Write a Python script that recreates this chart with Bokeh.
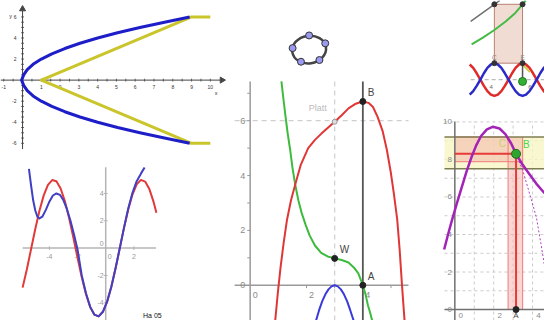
import math
from bokeh.plotting import figure
from bokeh.models import Range1d
from bokeh.core.properties import value
from bokeh.embed import file_html
from bokeh.resources import INLINE

FONT = value("Liberation Sans")

# ======================= DATA =======================
# 1) top-left: parabola (blue) and broken line (yellow)
par_y = [-6, -5.5, -5, -4.5, -4, -3.5, -3, -2.5, -2, -1.5, -1, -0.5, 0,
         0.5, 1, 1.5, 2, 2.5, 3, 3.5, 4, 4.5, 5, 5.5, 6]
par_x = [8.9, 7.56, 6.25, 5.06, 4.0, 3.06, 2.25, 1.56, 1.0, 0.56, 0.25, 0.06, -0.05,
         0.06, 0.25, 0.56, 1.0, 1.56, 2.25, 3.06, 4.0, 5.06, 6.25, 7.56, 8.9]
brk_x = [10, 9, 1, 9, 10]
brk_y = [6, 6, 0, -6, -6]
tl_xticks = [-1, 1, 2, 3, 4, 5, 6, 7, 8, 9, 10]
tl_yticks = [-6, -4, -2, 2, 4, 6]

# 2) bottom-left: sine (red) and approximating polynomial (blue)
sin_x = [-5.9, -5.6, -5.3, -5.0, -4.7, -4.4, -4.1, -3.8, -3.5, -3.2, -2.9, -2.6, -2.3,
         -2.0, -1.7, -1.4, -1.1, -0.8, -0.5, -0.2, 0.1, 0.4, 0.7, 1.0, 1.3, 1.6, 1.9,
         2.2, 2.5, 2.8, 3.1, 3.4, 3.6]
sin_y = [-2.89, -1.56, -0.08, 1.40, 2.75, 3.86, 4.63, 4.98, 4.89, 4.36, 3.44, 2.21, 0.79,
         -0.71, -2.14, -3.38, -4.32, -4.87, -4.99, -4.66, -3.92, -2.82, -1.48, 0.0, 1.48,
         2.82, 3.92, 4.66, 4.99, 4.87, 4.32, 3.38, 2.58]
poly_x = [-5.45, -5.3, -5.15, -5.0, -4.85, -4.7, -4.5, -4.25, -4.0, -3.75, -3.5, -3.25,
          -3.0, -2.75, -2.5, -2.25, -2.0, -1.7, -1.4, -1.1, -0.8, -0.5, -0.2, 0.1, 0.4,
          0.7, 1.0, 1.3, 1.6, 1.9, 2.2, 2.5, 2.76]
poly_y = [5.8, 4.6, 3.5, 2.75, 2.3, 2.17, 2.3, 2.8, 3.4, 3.85, 4.0, 3.9,
          3.5, 2.85, 2.0, 1.0, -0.1, -2.0, -3.3, -4.3, -4.87, -4.99, -4.66, -3.92, -2.82,
          -1.48, 0.0, 1.5, 2.9, 4.05, 4.9, 5.45, 5.9]
bl_xticks = [-4, -2, 2]
bl_yticks = [-4, -2, 2, 4]

# 3) centre: f (red), g (green), h (blue)
cf_x = [0.89, 0.98, 1.08, 1.19, 1.31, 1.45, 1.6, 1.8, 2.06, 2.3, 2.52, 2.75, 3.0, 3.25,
        3.49, 3.75, 3.99, 4.2, 4.36, 4.52, 4.7, 4.85, 4.99, 5.1, 5.22, 5.31, 5.39, 5.48]
cf_y = [-1.28, -0.3, 0.66, 1.55, 2.4, 3.1, 3.67, 4.4, 5.0, 5.3, 5.52, 5.73, 5.96, 6.2,
        6.45, 6.62, 6.7, 6.65, 6.5, 6.15, 5.63, 4.95, 4.13, 3.35, 2.4, 1.25, 0.0, -1.28]
cg_x = [1.11, 1.18, 1.25, 1.33, 1.42, 1.5, 1.6, 1.71, 1.83, 1.97, 2.11, 2.3, 2.52, 2.75,
        3.0, 3.25, 3.49, 3.68, 3.84, 4.0, 4.1, 4.18, 4.26, 4.33]
cg_y = [7.43, 6.8, 6.2, 5.55, 4.94, 4.3, 3.67, 3.1, 2.63, 2.2, 1.82, 1.45, 1.18, 1.05,
        0.98, 0.92, 0.83, 0.65, 0.43, 0.0, -0.35, -0.73, -1.0, -1.28]
ch_x = [2.34, 2.45, 2.56, 2.67, 2.78, 2.89, 3.0, 3.11, 3.22, 3.33, 3.44, 3.55, 3.67]
ch_y = [-1.28, -0.9, -0.58, -0.33, -0.15, -0.04, 0.0, -0.04, -0.15, -0.33, -0.58, -0.9, -1.28]
c_pts_x = [4, 4, 3]
c_pts_y = [6.7, 0.0, 0.98]
c_pts_lbl = ["B", "A", "W"]
platt_x = [3]
platt_y = [5.96]
c_xlabels = [0, 2, 4]
c_ylabels = [0, 2, 4, 6]
c_xticks = [1, 2, 3, 5]
c_yticks = [1, 2, 3, 4, 5, 6, 7]
c_vline_x = 4
c_dash_x = 3
c_dash_y = 6

# 4) top-right: two sine waves, rectangle, gray line, green curve
tr_x = [2.90, 3.08, 3.26, 3.45, 3.63, 3.81, 3.99, 4.17, 4.35, 4.53, 4.71, 4.90, 5.08,
        5.26, 5.44, 5.62, 5.80, 5.98, 6.16, 6.35, 6.53, 6.71, 6.89]
tr_blue = [-0.79, -0.61, -0.33, 0.0, 0.33, 0.61, 0.79, 0.86, 0.79, 0.61, 0.33, 0.0, -0.33,
           -0.61, -0.79, -0.86, -0.79, -0.61, -0.33, 0.0, 0.33, 0.61, 0.79]
tr_red = [0.79, 0.61, 0.33, 0.0, -0.33, -0.61, -0.79, -0.86, -0.79, -0.61, -0.33, 0.0, 0.33,
          0.61, 0.79, 0.86, 0.79, 0.61, 0.33, 0.0, -0.33, -0.61, -0.79]
tr_gray_x = [2.95, 4.17, 4.45]
tr_gray_y = [3.05, 3.95, 4.15]
tr_green_x = [3.0, 3.58, 4.17, 4.75, 5.25, 5.62, 5.78]
tr_green_y = [1.85, 2.2, 2.6, 3.05, 3.5, 3.95, 4.15]
tr_rect_x = [4.17, 5.62]
tr_rect_y = [0.86, 3.95]
tr_ticks = [4, 6]
tr_green_pt = [5.62, -0.1]

# 5) bottom-right: function with epsilon/delta bands
br_f_x = [-0.55, -0.35, -0.15, 0.1, 0.35, 0.6, 0.85, 1.1, 1.35, 1.65, 1.95, 2.3, 2.6,
          2.9, 3.15, 3.5, 3.85, 4.2, 4.62]
br_f_y = [3.2, 4.0, 4.75, 5.65, 6.5, 7.35, 8.1, 8.75, 9.25, 9.6, 9.74, 9.65, 9.35,
          8.85, 8.3, 7.7, 7.2, 6.7, 6.2]
br_dot_x = [3.15, 3.5, 3.9, 4.2, 4.45, 4.62]
br_dot_y = [8.3, 7.4, 6.0, 4.9, 3.4, 2.3]
br_A = 3.15
br_B = 8.3
br_eps = [7.5, 9.2]
br_delta_x = [2.74, 3.49]
br_delta_y = [7.88, 9.2]
br_ylabels = [0, 2, 4, 6, 8, 10]
br_xlabels = [0, 2, 4]
br_grid_x = [1, 2, 3, 4]
br_grid_y = [1, 2, 3, 4, 5, 6, 7, 8, 9, 10]

# 6) logo: ellipse with five points
logo_pts_x = [0, 16.6, 10.6, -8.4, -17]
logo_pts_y = [14.8, 6.5, -11, -12.8, 1.5]

# ======================= LAYOUT =======================
W, H = 544, 320
X0, X1, Y0, Y1 = 0, 560, 0, 336   # whole reference mapped onto the figure

p = figure(width=W, height=H, output_backend="svg", toolbar_location=None,
           x_range=Range1d(0, 1), y_range=Range1d(0, 1),
           x_axis_type=None, y_axis_type=None, min_border=0)
p.outline_line_color = None
p.background_fill_color = "white"
p.border_fill_color = "white"

panels = {
    # name: (origin x px, origin y px, px per unit x, px per unit y) in reference pixels
    "tl": (22.7, 83.6, 19.33, 11.06),
    "bl": (108.3, 260.0, 14.5, 14.35),
    "logo": (317.7, 51.5, 1.0, 1.0),
    "c": (257.0, 299.0, 29.0, 28.8),
    "tr": (425.0, 83.0, 20.0, 20.0),
    "br": (467.7, 324.5, 20.0, 19.7),
}
xr, yr = {}, {}
for name, (ox, oy, sx, sy) in panels.items():
    xr[name] = Range1d((X0 - ox) / sx, (X1 - ox) / sx)
    yr[name] = Range1d((oy - Y1) / sy, (oy - Y0) / sy)
p.extra_x_ranges = xr
p.extra_y_ranges = yr


def R(n):
    return dict(x_range_name=n, y_range_name=n)


def line(n, xs, ys, color, w=2, **kw):
    p.line(xs, ys, line_color=color, line_width=w, line_join="round", **R(n), **kw)


def segs(n, x0, y0, x1, y1, color, w=1, **kw):
    p.segment(x0=x0, y0=y0, x1=x1, y1=y1, line_color=color, line_width=w, **R(n), **kw)


def text(n, xs, ys, labels, size, color, align="center", baseline="middle",
         xo=0, yo=0, style="normal"):
    p.text(x=xs, y=ys, text=labels, text_font=FONT, text_font_size=f"{size}px",
           text_color=color, text_align=align, text_baseline=baseline,
           x_offset=xo, y_offset=yo, text_font_style=style, **R(n))


def bounds(n, l, r, t, b):
    ox, oy, sx, sy = panels[n]
    return (l - ox) / sx, (r - ox) / sx, (oy - b) / sy, (oy - t) / sy


# ---------- panel 1: top left ----------
n = "tl"
ox, oy, sx, sy = panels[n]
xa0, xa1, ya0, ya1 = bounds(n, 0, 226, 11, 156)
axc = "#444444"
segs(n, [xa0, 0], [0, ya0], [xa1, 0], [0, ya1], axc, 1)
p.scatter([xa1 + 2 / sx], [0], marker="triangle", size=6, angle=-math.pi / 2,
          fill_color=axc, line_color=axc, **R(n))
p.scatter([0], [ya1 + 2 / sy], marker="triangle", size=6,
          fill_color=axc, line_color=axc, **R(n))
halfx = [k / 2 for k in range(-2, 21) if k != 0]
halfy = [k / 2 for k in range(-12, 13) if k != 0]
segs(n, halfx, [-1.5 / sy] * len(halfx), halfx, [1.5 / sy] * len(halfx), axc, 0.8)
segs(n, [-1.5 / sx] * len(halfy), halfy, [1.5 / sx] * len(halfy), halfy, axc, 0.8)
text(n, tl_xticks, [0] * len(tl_xticks), [str(v) for v in tl_xticks], 5, "#333333", yo=6.5)
text(n, [0] * len(tl_yticks), tl_yticks, [str(v) for v in tl_yticks], 5, "#333333",
     align="right", xo=-6)
text(n, [xa1], [0], ["x"], 5.5, "#333333", xo=-4, yo=13)
text(n, [0], [ya1], ["y"], 5.5, "#333333", xo=-12, yo=5)
line(n, brk_x, brk_y, "#C9C52A", 3)
line(n, par_x, par_y, "#1E1EC8", 3)

# ---------- panel 2: bottom left ----------
n = "bl"
ox, oy, sx, sy = panels[n]
xa0, xa1, ya0, ya1 = bounds(n, 22.7, 160, 175, 336)
axc = "#B4B4B4"
segs(n, [xa0, 0], [0, ya0], [xa1, 0], [0, ya1], axc, 1.5)
segs(n, bl_xticks, [-2 / sy] * 3, bl_xticks, [2 / sy] * 3, axc, 1)
segs(n, [-2 / sx] * 4, bl_yticks, [2 / sx] * 4, bl_yticks, axc, 1)
text(n, bl_xticks, [0] * 3, [str(v) for v in bl_xticks], 7, "#999999", yo=8)
text(n, [0], [0], ["0"], 7, "#999999", xo=4, yo=8)
text(n, [0] * 4, bl_yticks, [str(v) for v in bl_yticks], 7, "#999999", align="right", xo=-2)
text(n, [0], [0], ["0"], 7, "#999999", align="right", xo=-2, yo=-5)
line(n, sin_x, sin_y, "#E23A3A", 2)
line(n, poly_x, poly_y, "#4040C4", 2)
text(n, [(146.7 - ox) / sx], [(oy - 330.5) / sy], ["Ha 05"], 7, "#111111", align="left")

# ---------- logo ----------
n = "logo"
p.ellipse(x=[0], y=[0], width=35, height=29, angle=0.15, fill_color=None,
          line_color="#444444", line_width=2.5, **R(n))
p.scatter(logo_pts_x, logo_pts_y, marker="circle", size=7, fill_color="#9A9AF0",
          line_color="#333333", line_width=1, **R(n))

# ---------- panel 3: centre ----------
n = "c"
ox, oy, sx, sy = panels[n]
xa0, xa1, ya0, ya1 = bounds(n, 241, 420, 85, 336)
segs(n, [c_dash_x, xa0], [ya0, c_dash_y], [c_dash_x, xa1], [ya1, c_dash_y], "#CFCFCF", 1.2,
     line_dash="5 4")
segs(n, [xa0, 0], [0, ya0], [xa1, 0], [0, ya1], "#9A9A9A", 1.5)
segs(n, [c_vline_x], [ya0], [c_vline_x], [ya1], "#555555", 1.8)
segs(n, c_xticks, [0] * len(c_xticks), c_xticks, [-3 / sy] * len(c_xticks), "#9A9A9A", 1)
segs(n, [-3 / sx] * len(c_yticks), c_yticks, [0] * len(c_yticks), c_yticks, "#9A9A9A", 1)
text(n, [0] * 4, c_ylabels, [str(v) for v in c_ylabels], 9, "#8A8A8A", align="right", xo=-5)
text(n, c_xlabels, [0] * 3, [str(v) for v in c_xlabels], 9, "#8A8A8A", xo=5, yo=10)
line(n, ch_x, ch_y, "#3A3ADA", 2)
line(n, cg_x, cg_y, "#3DBB3D", 2)
line(n, cf_x, cf_y, "#E03636", 2)
p.scatter(platt_x, platt_y, marker="circle", size=5, fill_color="#DDDDDD",
          line_color="#999999", **R(n))
text(n, [2.4], [6.45], ["Platt"], 9, "#BBBBBB")
p.scatter(c_pts_x, c_pts_y, marker="circle", size=6, fill_color="#222222",
          line_color="#222222", **R(n))
text(n, c_pts_x, c_pts_y, c_pts_lbl, 10, "#444444", align="left", xo=5, yo=-9)

# ---------- panel 4: top right ----------
n = "tr"
ox, oy, sx, sy = panels[n]
xa0, xa1, ya0, ya1 = bounds(n, 484, 560, 0, 108)
segs(n, [xa0], [0], [xa1], [0], "#BBBBBB", 1.2, line_dash="4 3")
text(n, tr_ticks, [0, 0], [str(v) for v in tr_ticks], 6, "#666666", yo=7)
p.quad(left=[tr_rect_x[0]], right=[tr_rect_x[1]], bottom=[tr_rect_y[0]], top=[tr_rect_y[1]],
       fill_color="#EDD6CB", fill_alpha=0.85, line_color="#B98070", line_width=1, **R(n))
line(n, tr_gray_x, tr_gray_y, "#707070", 1.5)
line(n, tr_green_x, tr_green_y, "#44BB44", 2)
line(n, tr_x, tr_red, "#E02A2A", 2.5)
line(n, tr_x, tr_blue, "#2A2AC8", 2.5)
line(n, [5.65, 6.0], [0.75, 0.4], "#CFCB50", 2)
segs(n, [tr_rect_x[1]], [tr_rect_y[0]], [tr_green_pt[0]], [tr_green_pt[1]], "#555555", 1.5)
p.scatter([tr_rect_x[0], tr_rect_x[1], tr_rect_x[0], tr_rect_x[1]],
          [tr_rect_y[0], tr_rect_y[0], tr_rect_y[1], tr_rect_y[1]],
          marker="circle", size=5, fill_color="#333333", line_color="#333333", **R(n))
p.scatter([tr_green_pt[0]], [tr_green_pt[1]], marker="circle", size=8,
          fill_color="#33B033", line_color="#1E7A1E", **R(n))
text(n, [tr_rect_x[0], tr_rect_x[1]], [tr_rect_y[0]] * 2, ["C", "E"], 6.5, "#888888",
     xo=0, yo=-6)

# ---------- panel 5: bottom right ----------
n = "br"
ox, oy, sx, sy = panels[n]
xa0, xa1, ya0, ya1 = bounds(n, 457, 560, 127, 336)
gx = br_grid_x
gy = br_grid_y
segs(n, gx, [ya0] * len(gx), gx, [ya1] * len(gx), "#CCCCCC", 1, line_dash="3 3")
segs(n, [xa0] * len(gy), gy, [xa1] * len(gy), gy, "#CCCCCC", 1, line_dash="3 3")
p.quad(left=[xa0], right=[xa1], bottom=[br_eps[0]], top=[br_eps[1]],
       fill_color="#F8F5C4", fill_alpha=0.8, line_color=None, **R(n))
p.patch([0, 0, br_delta_x[1], br_delta_x[1], br_delta_x[0], br_delta_x[0]],
        [br_delta_y[0], br_delta_y[1], br_delta_y[1], 0, 0, br_delta_y[0]],
        fill_color="#F4AFA6", fill_alpha=0.5, line_color=None, **R(n))
segs(n, [0, 0], br_delta_y, [br_delta_x[1], br_delta_x[0]], br_delta_y, "#F07A7A", 1)
segs(n, br_delta_x, [0, 0], br_delta_x, [br_delta_y[1]] * 2, "#F07A7A", 1)
segs(n, [xa0, xa0], br_eps, [xa1, xa1], br_eps, "#7E7E52", 1.5)
segs(n, [xa0, 0], [0, ya0], [xa1, 0], [0, ya1], "#707070", 1.5)
segs(n, [0, br_A], [br_B, 0], [br_A, br_A], [br_B, br_B], "#E83A3A", 2)
text(n, [0] * len(br_ylabels), br_ylabels, [str(v) for v in br_ylabels], 8, "#8A8A8A",
     align="right", xo=-3)
text(n, br_xlabels, [0] * 3, [str(v) for v in br_xlabels], 8, "#8A8A8A", xo=6, yo=5.5)
line(n, br_dot_x, br_dot_y, "#B040C0", 1, line_dash="2 2")
line(n, br_f_x, br_f_y, "#A323B8", 2.5)
p.scatter([br_A], [0], marker="circle", size=6, fill_color="#222222",
          line_color="#222222", **R(n))
text(n, [br_A], [0], ["A"], 8, "#444444", yo=5.5)
p.scatter([br_A], [br_B], marker="circle", size=9, fill_color="#2FA52F",
          line_color="#1B6B1B", **R(n))
text(n, [br_A], [br_B], ["B"], 10, "#4CD44C", align="left", xo=7, yo=-9)
text(n, [2.45], [8.86], ["C"], 10, "#C7D46E")

open("out.html", "w").write(file_html(p, INLINE))
